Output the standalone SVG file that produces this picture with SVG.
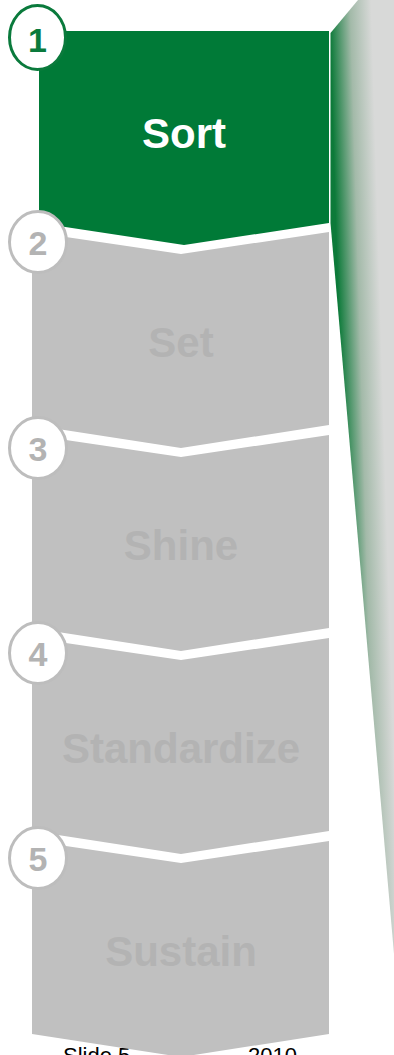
<svg xmlns="http://www.w3.org/2000/svg" width="394" height="1055" viewBox="0 0 394 1055">
  <defs>
    <linearGradient id="fade" gradientUnits="userSpaceOnUse" x1="330" y1="33" x2="372" y2="31.74">
      <stop offset="0" stop-color="#0c7a39"/>
      <stop offset="0.5" stop-color="#a3baa9"/>
      <stop offset="1" stop-color="#d8d9d8"/>
    </linearGradient>
    <style>
      .box { fill: #c0c0c0; }
      .active { fill: #007a37; }
      .label { font-family: "Liberation Sans", Arial, sans-serif; font-weight: bold; font-size: 42px; text-anchor: middle; }
      .lbl-on { fill: #ffffff; }
      .lbl-off { fill: #b3b3b3; }
      .ring { fill: #ffffff; stroke-width: 3; }
      .ring-on { stroke: #0a7a3c; }
      .ring-off { stroke: #bdbdbd; }
      .num { font-family: "Liberation Sans", Arial, sans-serif; font-weight: bold; font-size: 34px; text-anchor: middle; }
      .num-on { fill: #0a7a3c; }
      .num-off { fill: #b3b3b3; }
      .foot { font-family: "Liberation Sans", Arial, sans-serif; font-size: 22px; fill: #000000; }
    </style>
  </defs>
  <rect width="394" height="1055" fill="#ffffff"/>

  <g id="footer">
    <text class="foot" x="63" y="1063">Slide 5</text>
    <text class="foot" x="248" y="1063">2010</text>
  </g>

  <g id="side-panel">
    <polygon points="330.5,33 358,0 400,0 400,1000 398,1000 330.5,223" fill="url(#fade)"/>
  </g>

  <g id="step1">
    <polygon class="active" points="39,31 329,31 329,223 184,245 39,223"/>
    <text class="label lbl-on" x="184" y="148">Sort</text>
  </g>
  <g id="step2">
    <polygon class="box" points="32,232 181,254 329,232 329,425 181,448 32,425"/>
    <text class="label lbl-off" x="181" y="357">Set</text>
  </g>
  <g id="step3">
    <polygon class="box" points="32,435 181,457 329,435 329,628 181,651 32,628"/>
    <text class="label lbl-off" x="181" y="560">Shine</text>
  </g>
  <g id="step4">
    <polygon class="box" points="32,638 181,660 329,638 329,831 181,854 32,831"/>
    <text class="label lbl-off" x="181" y="763">Standardize</text>
  </g>
  <g id="step5">
    <polygon class="box" points="32,841 181,863 329,841 329,1034 181,1057 32,1034"/>
    <text class="label lbl-off" x="181" y="966">Sustain</text>
  </g>

  <g id="badge1">
    <ellipse class="ring ring-on" cx="37.5" cy="37.5" rx="28" ry="32"/>
    <text class="num num-on" x="37.5" y="51.5">1</text>
  </g>
  <g id="badge2">
    <ellipse class="ring ring-off" cx="38" cy="242" rx="28.5" ry="30.5"/>
    <text class="num num-off" x="38" y="255">2</text>
  </g>
  <g id="badge3">
    <ellipse class="ring ring-off" cx="38" cy="448" rx="28.5" ry="30.5"/>
    <text class="num num-off" x="38" y="461">3</text>
  </g>
  <g id="badge4">
    <ellipse class="ring ring-off" cx="38" cy="653" rx="28.5" ry="30.5"/>
    <text class="num num-off" x="38" y="666">4</text>
  </g>
  <g id="badge5">
    <ellipse class="ring ring-off" cx="38" cy="858" rx="28.5" ry="30.5"/>
    <text class="num num-off" x="38" y="871">5</text>
  </g>
</svg>
